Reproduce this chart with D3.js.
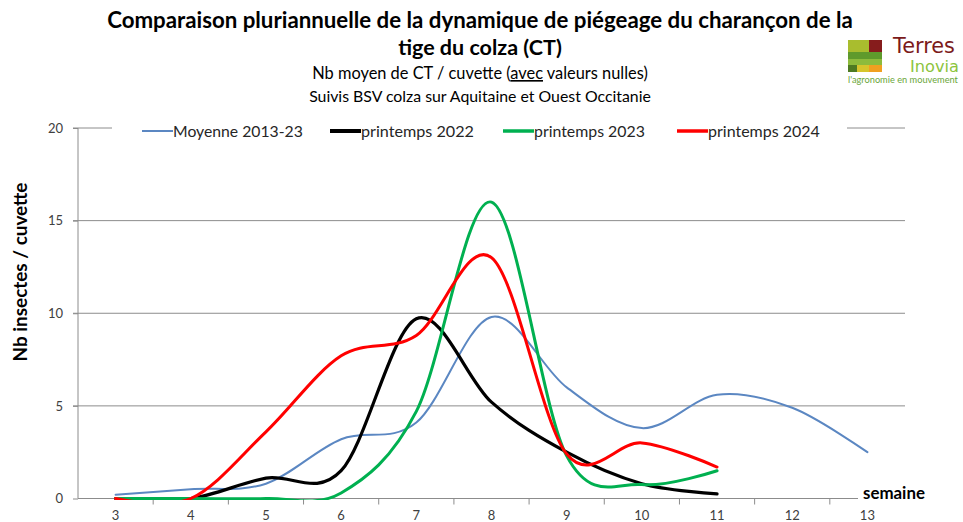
<!DOCTYPE html>
<html><head><meta charset="utf-8">
<script src="https://cdn.jsdelivr.net/npm/d3@7"></script>
<style>
html,body{margin:0;padding:0;background:#fff;}
svg{display:block;font-family:Lato, "Open Sans", sans-serif;}
</style></head>
<body><svg id="c" width="963" height="522"></svg>
<script>
const weeks = [3,4,5,6,7,8,9,10,11,12,13];
const yTicks = [0,5,10,15,20];
const moyenne = [0.2,0.5,0.8,3.2,4.1,9.8,6.0,3.8,5.6,4.9,2.5];
const p2022 = [0,0,1.1,1.5,9.7,5.2,2.5,0.8,0.25,null,null];
const p2023 = [0,0,0,0.3,4.7,16.0,2.3,0.75,1.5,null,null];
const p2024 = [0,0,3.6,7.7,8.8,13.0,2.4,3.0,1.7,null,null];
const seriesNames = ["Moyenne 2013-23","printemps 2022","printemps 2023","printemps 2024"];
const seriesColors = ["#5b87c2","#000000","#00b050","#ff0000"];
const seriesWidths = [2,3.2,3,3];

const svg = d3.select("#c");
const L = 78, R = 905, T = 128, B = 498.5;
const x = d3.scaleBand().domain(weeks).range([L,R]).padding(0);
const xc = d => x(d) + x.bandwidth()/2;
const y = d3.scaleLinear().domain([0,20]).range([B,T]);

function fit(sel, w){
  const n = sel.node(); const fs = parseFloat(sel.attr("font-size"));
  const cw = n.getComputedTextLength(); if (cw>0) sel.attr("font-size", fs*w/cw);
  return sel;
}

// gridlines
svg.append("g").selectAll("line").data(yTicks.filter(v=>v>0)).join("line")
  .attr("x1",L-5).attr("x2",R).attr("y1",d=>y(d)).attr("y2",d=>y(d))
  .attr("stroke","#8c8c8c").attr("stroke-width",1);

// y axis
const ya = svg.append("g").attr("transform",`translate(${L},0)`)
  .call(d3.axisLeft(y).tickValues(yTicks).tickSize(5).tickPadding(10));
ya.select(".domain").attr("stroke","#8c8c8c").attr("d",`M0,${T}V${B}`);
ya.selectAll(".tick line").attr("stroke","#8c8c8c");
ya.selectAll("text").attr("font-size",13).attr("fill","#404040").attr("font-family","Lato");

// x axis
const xa = svg.append("g").attr("transform",`translate(0,${B})`)
  .call(d3.axisBottom(x).tickSize(0).tickPadding(12));
xa.select(".domain").attr("stroke","#8c8c8c").attr("d",`M${L},0H${R}`);
xa.selectAll("text").attr("font-size",13).attr("fill","#404040").attr("font-family","Lato");
svg.append("g").selectAll("line").data(weeks.slice(1)).join("line")
  .attr("x1",d=>x(d)).attr("x2",d=>x(d)).attr("y1",B).attr("y2",B+6)
  .attr("stroke","#8c8c8c");

// clip
svg.append("clipPath").attr("id","pc").append("rect")
  .attr("x",L).attr("y",T-10).attr("width",R-L).attr("height",B-T+11.5);

const line = d3.line().defined(d=>d[1]!=null)
  .x(d=>xc(d[0])).y(d=>y(d[1])).curve(d3.curveCardinal.tension(0));
const all = [moyenne,p2022,p2023,p2024];
const pg = svg.append("g").attr("clip-path","url(#pc)");
all.forEach((s,i)=>{
  pg.append("path").datum(weeks.map((w,j)=>[w,s[j]]))
    .attr("d",line).attr("fill","none").attr("stroke",seriesColors[i])
    .attr("stroke-width",seriesWidths[i]).attr("stroke-linejoin","round").attr("stroke-linecap","round");
});

// semaine label
svg.append("rect").attr("x",858).attr("y",484).attr("width",75).attr("height",18).attr("fill","#fff");
fit(svg.append("text").attr("x",863).attr("y",499).attr("font-size",16).attr("font-weight","bold")
  .attr("fill","#000").text("semaine"), 62);

// legend
svg.append("rect").attr("x",112).attr("y",120).attr("width",735).attr("height",22).attr("fill","#fff");
const legX = [142,330,503,677];
const legW = [130,113,111,112];
const lg = svg.append("g");
seriesNames.forEach((n,i)=>{
  lg.append("line").attr("x1",legX[i]).attr("x2",legX[i]+31).attr("y1",131).attr("y2",131)
    .attr("stroke",seriesColors[i]).attr("stroke-width",i==0?2:i==1?4:3.5);
  fit(lg.append("text").attr("x",legX[i]+31).attr("y",136.5).attr("font-size",16).attr("fill","#262626").text(n), legW[i]);
});

// y title
fit(svg.append("text").attr("transform","translate(27,272) rotate(-90)").attr("text-anchor","middle")
  .attr("font-size",18).attr("font-weight","bold").attr("fill","#000").text("Nb insectes / cuvette"), 179);

// titles
fit(svg.append("text").attr("x",480).attr("y",28).attr("text-anchor","middle").attr("font-size",20)
  .attr("font-weight","bold").text("Comparaison pluriannuelle de la dynamique de piégeage du charançon de la"), 746);
svg.append("text").attr("x",480).attr("y",55).attr("text-anchor","middle").attr("font-size",21.5)
  .attr("font-weight","bold").text("tige du colza (CT)");
const st = svg.append("text").attr("x",480).attr("y",79).attr("text-anchor","middle").attr("font-size",15.5);
st.append("tspan").text("Nb moyen de CT / cuvette (");
st.append("tspan").attr("text-decoration","underline").text("avec");
st.append("tspan").text(" valeurs nulles)");
fit(st, 336);
fit(svg.append("text").attr("x",480).attr("y",102).attr("text-anchor","middle").attr("font-size",15)
  .text("Suivis BSV colza sur Aquitaine et Ouest Occitanie"), 342);

// logo
const lgo = svg.append("g");
const blocks = [
  [848,40,21,12,"#a9bd2e"],[869,40,13,12,"#861c1c"],
  [848,52,34,7,"#5f9a2c"],[848,59,34,6,"#8dbb3c"],
  [848,65,9,7,"#4d7a22"],[857,65,12,7,"#d6c52c"],[869,65,13,7,"#f0a020"]
];
blocks.forEach(b=>lgo.append("rect").attr("x",b[0]).attr("y",b[1]).attr("width",b[2]).attr("height",b[3]).attr("fill",b[4]));
fit(lgo.append("text").attr("x",893).attr("y",53).attr("font-size",17).attr("fill","#7b1a1a").attr("font-family","DejaVu Sans").text("Terres"), 62);
fit(lgo.append("text").attr("x",910).attr("y",71.5).attr("font-size",14).attr("fill","#8cc43c").attr("font-family","DejaVu Sans").text("Inovia"), 49);
fit(lgo.append("text").attr("x",848).attr("y",83).attr("font-size",8).attr("fill","#6aa63a").text("l'agronomie en mouvement"), 110);
</script></body></html>
